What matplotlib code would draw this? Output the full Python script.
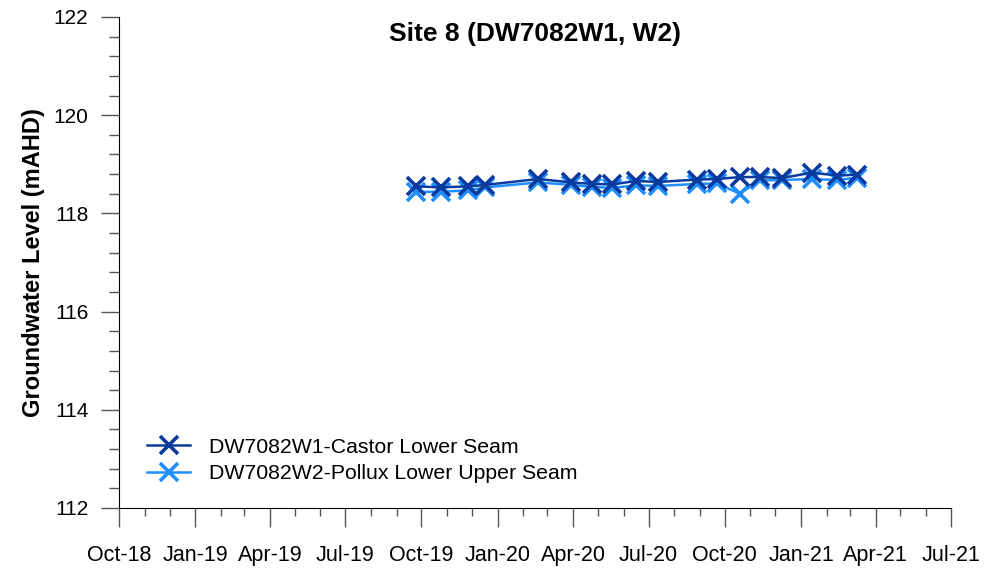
import numpy as np
import pandas as pd
import matplotlib
matplotlib.use("Agg")
import matplotlib.pyplot as plt
import matplotlib.dates as mdates

plt.rcParams['font.family'] = ['Liberation Sans', 'DejaVu Sans']

# sampling dates
dates = pd.to_datetime([
    "2019-09-25", "2019-10-25", "2019-11-26", "2019-12-17", "2020-02-19",
    "2020-03-30", "2020-04-24", "2020-05-18", "2020-06-16", "2020-07-13",
    "2020-08-29", "2020-09-22", "2020-10-19", "2020-11-12", "2020-12-09",
    "2021-01-14", "2021-02-14", "2021-03-10",
])

w1_level = [118.55, 118.53, 118.55, 118.58, 118.70, 118.63, 118.60, 118.59,
            118.66, 118.64, 118.69, 118.70, 118.74, 118.74, 118.72, 118.83,
            118.77, 118.79]
w2_level = [118.44, 118.44, 118.47, 118.53, 118.63, 118.58, 118.54, 118.52,
            118.57, 118.56, 118.60, 118.61, 118.40, 118.67, 118.68, 118.70,
            118.68, 118.73]

w1_name = "DW7082W1-Castor Lower Seam"
w2_name = "DW7082W2-Pollux Lower Upper Seam"
title = "Site 8 (DW7082W1, W2)"

fig = plt.figure(figsize=(9.89, 5.72), dpi=100)
ax = fig.add_axes([0.1203, 0.1119, 0.8413, 0.8584])

ax.plot(dates, w1_level, color="#0a3a9e", lw=1.8, marker="x", ms=12.5, mew=2.6,
        label=w1_name, zorder=3)
ax.plot(dates, w2_level, color="#1f8fff", lw=1.8, marker="x", ms=12.5, mew=2.6,
        label=w2_name, zorder=2)

ax.set_xlim(pd.Timestamp("2018-10-01"), pd.Timestamp("2021-07-01"))
ax.set_ylim(112, 122)
ax.set_yticks(np.arange(112, 123, 2))
ax.yaxis.set_minor_locator(matplotlib.ticker.MultipleLocator(0.4))

ax.xaxis.set_major_locator(mdates.MonthLocator(bymonth=[1, 4, 7, 10]))
ax.xaxis.set_minor_locator(mdates.MonthLocator())
ax.xaxis.set_major_formatter(mdates.DateFormatter("%b-%y"))

ax.spines["top"].set_visible(False)
ax.spines["right"].set_visible(False)
ax.tick_params(axis="x", which="major", length=14, width=1, color="#555555",
               pad=13, labelsize=15.5)
ax.tick_params(axis="x", which="minor", length=6, width=1, color="#555555")
ax.tick_params(axis="y", which="major", length=13, width=1, color="#555555",
               pad=9, labelsize=15)
ax.tick_params(axis="y", which="minor", length=7, width=1, color="#555555")

ax.set_ylabel("Groundwater Level (mAHD)", fontsize=17, fontweight="bold",
              labelpad=6)
ax.text(0.5, 0.99, title, transform=ax.transAxes, ha="center", va="top",
        fontsize=19, fontweight="bold")

ax.legend(loc="lower left", bbox_to_anchor=(0.011, 0.012), frameon=False,
          fontsize=15.3, handlelength=2.0, handletextpad=0.9, labelspacing=0.35)

fig.savefig("out.png", dpi=100)
